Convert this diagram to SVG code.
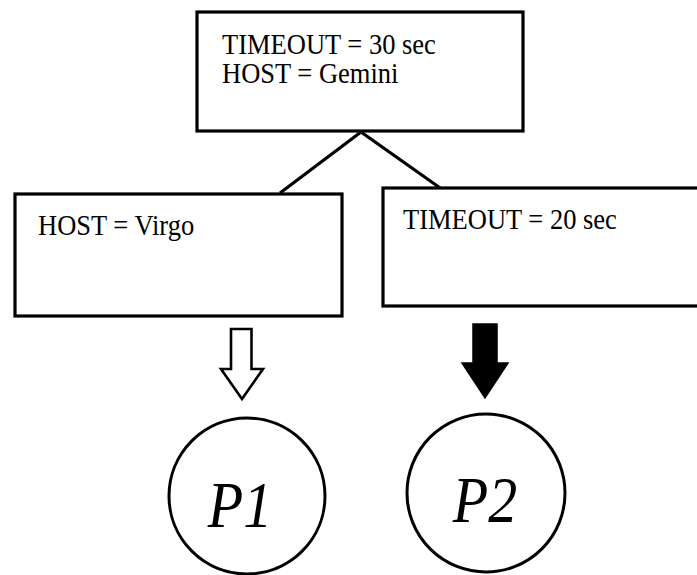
<svg xmlns="http://www.w3.org/2000/svg" width="697" height="575" viewBox="0 0 697 575">
<style>
.box{fill:#fff;stroke:#000;stroke-width:3.2}
.t{font-family:"Liberation Serif","Times New Roman",serif;font-size:26.5px;fill:#000}
.p{font-family:"Liberation Serif","Times New Roman",serif;font-style:italic;font-size:58px;fill:#000}
.conn{stroke:#000;stroke-width:3.2;fill:none}
</style>
<rect width="697" height="575" fill="#fff"/>
<g id="connectors">
<line class="conn" x1="361" y1="132" x2="280" y2="193"/>
<line class="conn" x1="361" y1="132" x2="443" y2="190"/>
<polygon id="arrow-hollow" points="231,329 251.5,329 251.5,369 263,369 242,399 221,369 231,369" fill="#fff" stroke="#000" stroke-width="2.6" stroke-linejoin="miter"/>
<polygon id="arrow-filled" points="473,324 497,324 497,363 508,363 485,398 462,363 473,363" fill="#000" stroke="#000" stroke-width="1.5"/>
</g>
<g id="root">
<rect class="box" x="197" y="12" width="326" height="119"/>
<text class="t" transform="translate(222,54) scale(1,1.08)">TIMEOUT = 30 sec</text>
<text class="t" transform="translate(222,83) scale(1,1.08)">HOST = Gemini</text>
</g>
<g id="left">
<rect class="box" x="15" y="194" width="327" height="122"/>
<text class="t" transform="translate(38,235) scale(1,1.08)">HOST = Virgo</text>
</g>
<g id="right">
<rect class="box" x="383" y="188" width="330" height="118"/>
<text class="t" transform="translate(403,229) scale(1,1.08)">TIMEOUT = 20 sec</text>
</g>
<g id="p1">
<circle cx="247" cy="496" r="78" fill="#fff" stroke="#000" stroke-width="3"/>
<text class="p" transform="translate(240,527) scale(1,1.12)" text-anchor="middle">P1</text>
</g>
<g id="p2">
<circle cx="486" cy="493" r="79" fill="#fff" stroke="#000" stroke-width="3"/>
<text class="p" transform="translate(485,522) scale(1,1.12)" text-anchor="middle">P2</text>
</g>
</svg>
